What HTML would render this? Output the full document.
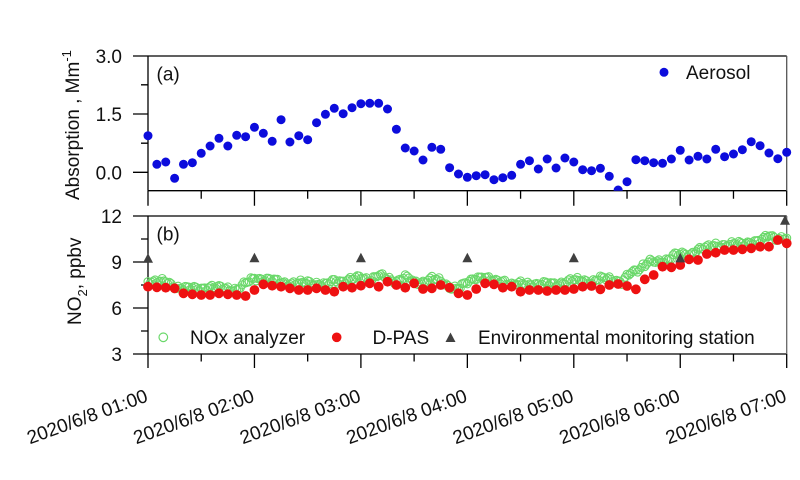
<!DOCTYPE html>
<html><head><meta charset="utf-8"><style>
html,body{margin:0;padding:0;background:#fff;}
svg{display:block;font-family:"Liberation Sans",Arial,sans-serif;}
</style></head><body>
<svg id="s" width="800" height="480" viewBox="0 0 800 480" xmlns="http://www.w3.org/2000/svg">
<defs>
<clipPath id="ca"><rect x="140" y="56" width="660" height="134.7"/></clipPath>
<clipPath id="cb"><rect x="140" y="216" width="660" height="138"/></clipPath>
</defs>
<rect width="800" height="480" fill="#fff"/>
<g stroke="#000" stroke-width="1.3" fill="none">
<path d="M148,56H786.7M148,56V190.7M148,190.7H786.7"/>
<path d="M786.7,56V190.7" stroke="#555"/>
<path d="M148,216H786.7M148,216V354M148,354H786.7"/>
<path d="M786.7,216V354" stroke="#666"/>
<path d="M133,56H148M133,114H148M133,172.3H148M141,84.8H148M141,143.2H148"/>
<path d="M133,216H148M133,262H148M133,308H148M133,354H148M141,239H148M141,285H148M141,331H148"/>
<path id="xt1" d=""/>
<path id="xt2" d=""/>
</g>
<g font-size="19" fill="#111" text-anchor="end">
<text x="122" y="63">3.0</text>
<text x="122" y="121">1.5</text>
<text x="122" y="179.3">0.0</text>
<text x="122" y="223">12</text>
<text x="122" y="269">9</text>
<text x="122" y="315">6</text>
<text x="122" y="361">3</text>
</g>
<text transform="translate(79,200) rotate(-90)" font-size="19" fill="#111">Absorption , Mm<tspan font-size="13" dy="-8">-1</tspan></text>
<text transform="translate(81,325) rotate(-90)" font-size="19" fill="#111">NO<tspan font-size="13" dy="6">2</tspan><tspan dy="-6">, ppbv</tspan></text>
<text x="156.5" y="80.5" font-size="19" fill="#111">(a)</text>
<text x="156.5" y="240.5" font-size="19" fill="#111">(b)</text>
<g id="xl" font-size="19" fill="#111" text-anchor="end"></g>
<g id="blue" clip-path="url(#ca)" fill="#0c0cdc"></g>
<g id="green" clip-path="url(#cb)" fill="none" stroke="#6ad86a" stroke-width="1.1"></g>
<g id="red" clip-path="url(#cb)" fill="#ee1111"></g>
<g id="tri" clip-path="url(#cb)" fill="#404040"></g>
<circle cx="664" cy="72.3" r="4.5" fill="#0c0cdc"/>
<text x="686" y="79" font-size="19" fill="#111">Aerosol</text>
<circle cx="163.3" cy="337.3" r="4.3" fill="none" stroke="#6ad86a" stroke-width="1.2"/>
<text x="190" y="344" font-size="19" fill="#111">NOx analyzer</text>
<circle cx="336.7" cy="337.3" r="4.8" fill="#ee1111"/>
<text x="372.5" y="344" font-size="19" fill="#111">D-PAS</text>
<polygon points="445.5,342 455.5,342 450.5,332.5" fill="#404040"/>
<text x="478" y="344" font-size="19" fill="#111">Environmental monitoring station</text>
</svg>
<script>
(function(){
var NS="http://www.w3.org/2000/svg";
function el(p,t,a){var e=document.createElementNS(NS,t);for(var k in a)e.setAttribute(k,a[k]);p.appendChild(e);return e;}
var x0=148,hr=106.45,st=hr/12;
var d1="",d2="";
for(var k=0;k<=6;k++){var x=x0+k*hr;d1+="M"+x+",190.7V205.7";d2+="M"+x+",354V368";
 if(k<6){var xm=x+hr/2;d1+="M"+xm+",190.7V198.7";d2+="M"+xm+",354V361.5";}
 var t=el(document.getElementById("xl"),"text",{x:x+1,y:401,transform:"rotate(-20 "+(x+1)+" 401)"});
 t.textContent="2020/6/8 0"+(k+1)+":00";}
document.getElementById("xt1").setAttribute("d",d1);
document.getElementById("xt2").setAttribute("d",d2);
var blue=[135.7,164.3,162,178.3,164.3,162.7,153.3,146,138.3,146,135.3,136.7,127.3,133.3,141.3,119.7,142,135.7,139.7,122.7,114.3,108.3,113.7,107.7,103.7,103.3,103.3,109,129.3,148,151,160,147.3,149.3,167.7,174,177.3,175.7,174.7,179.7,177.7,175.3,164.3,160.7,169,159,168,158,162,169.7,170.7,168.3,176.3,190,181.7,159.7,160.7,162.7,163.3,159,150.3,160,156.3,159,149.3,156.7,154,149.7,141.7,145.7,153,158.7,152.3];
var red=[286.7,287.3,287.7,288.3,293.3,294.3,295,295,293.3,294.3,295,296,290,284.3,285.7,286.7,288.3,290,290,288.3,290,291.7,286.7,287.7,285.7,283.3,286.7,281.7,285,287.7,283.3,289,288.3,285,287.7,293.3,295,289,283.3,284.3,287.7,286.7,291.7,290,290,291,290,290,289,286.7,286,289.3,285,284,286,289.3,279.3,275,266.7,267.3,265,259.3,260,254,252.7,250,250,249.3,248.3,246.7,246.7,240,243.3];
var gb=document.getElementById("blue"),gg=document.getElementById("green"),gr=document.getElementById("red"),gt=document.getElementById("tri");
for(var i=0;i<blue.length;i++)el(gb,"circle",{cx:(x0+i*st).toFixed(2),cy:blue[i],r:4.5});
function interp(t){if(t<=0)return red[0];if(t>=72)return red[72];var a=Math.floor(t),f=t-a;return red[a]*(1-f)+red[a+1]*f;}
for(var j=0;j<=360;j++){var t=j/5;var lead=(t>52&&t<60)?1.6:1.0;
 var off=t<56?6.5:5;
 var y=interp(t+lead)-off+1.5*Math.sin(j*1.37)+1.0*Math.sin(j*0.41+1)+0.7*Math.sin(j*2.9);
 el(gg,"circle",{cx:(x0+j*st/5).toFixed(2),cy:y.toFixed(2),r:4});}
for(var i=0;i<red.length;i++)el(gr,"circle",{cx:(x0+i*st).toFixed(2),cy:red[i],r:4.9});
var ty=[258,257.5,257.5,257.5,257.5,257.7,220];
for(var k=0;k<=6;k++){var x=x0+k*hr;if(k==6)x=785;var y=ty[k];
 el(gt,"polygon",{points:(x-5)+","+(y+4.7)+" "+(x+5)+","+(y+4.7)+" "+x+","+(y-4.8)});}
})();
</script>
</body></html>
